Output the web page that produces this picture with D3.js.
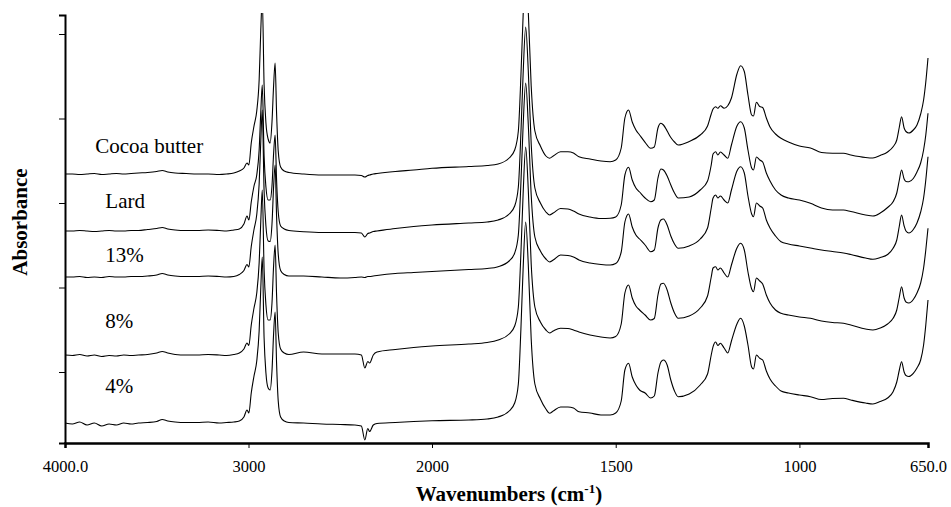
<!DOCTYPE html>
<html>
<head>
<meta charset="utf-8">
<script src="https://cdn.jsdelivr.net/npm/d3@7"></script>
<style>
  body { margin: 0; background: #fff; }
  svg { display: block; }
  svg text { font-family: "Liberation Serif", "Times New Roman", serif !important; fill: #000; }
</style>
</head>
<body>
<div id="chart"></div>
<script>
// FTIR spectra (absorbance, arbitrary offsets)
const wavenumbers = [
  4000, 3960, 3920, 3880, 3840, 3800, 3760, 3720, 3680, 3640, 3600, 3550, 3500, 3470, 3440, 3400, 3340, 3280, 3220, 3160, 3120, 3080,
  3050, 3025, 3008, 2998, 2985, 2970, 2955, 2942, 2933, 2925, 2915, 2905, 2893, 2882, 2872, 2863, 2855, 2847, 2838, 2825, 2805, 2780,
  2700, 2600, 2500, 2420, 2385, 2366, 2350, 2340, 2320, 2300, 2200, 2100, 2000, 1900, 1850, 1820, 1790, 1775, 1765, 1758, 1752, 1745, 1738, 1730, 1720, 1705, 1690, 1680,
  1670, 1650, 1630, 1615, 1600, 1570, 1540, 1515, 1500, 1485, 1475, 1465, 1455, 1445, 1435, 1420, 1405, 1395, 1385, 1377,
  1370, 1360, 1350, 1340, 1330, 1300, 1270, 1250, 1240, 1235, 1228, 1222, 1215, 1205, 1195, 1185, 1170, 1160, 1150, 1140,
  1130, 1125, 1117, 1108, 1100, 1090, 1080, 1065, 1050, 1030, 1000, 970, 940, 910, 880, 860, 820, 800, 780, 760,
  745, 735, 728, 722, 715, 710, 702, 690, 680, 670, 662, 656, 650
];

const cocoaButter = [
  2.69, 2.69, 2.685, 2.69, 2.695, 2.685, 2.69, 2.695, 2.69, 2.695, 2.70, 2.705, 2.715, 2.725, 2.71, 2.70, 2.695, 2.69, 2.69, 2.685, 2.69, 2.70,
  2.72, 2.75, 2.80, 2.78, 3.00, 3.17, 3.32, 3.63, 4.13, 4.45, 3.58, 3.20, 3.04, 3.00, 3.21, 3.58, 3.80, 3.30, 2.92, 2.76, 2.72, 2.705,
  2.69, 2.68, 2.68, 2.68, 2.675, 2.66, 2.675, 2.68, 2.69, 2.695, 2.715, 2.73, 2.747, 2.765, 2.775, 2.79, 2.85, 2.93, 3.12, 3.67, 4.27, 4.78, 4.32, 3.57, 3.12, 2.97, 2.87, 2.847,
  2.87, 2.913, 2.913, 2.90, 2.863, 2.84, 2.82, 2.813, 2.83, 2.95, 3.25, 3.33, 3.21, 3.13, 3.08, 3.007, 2.947, 2.96, 3.15, 3.197,
  3.18, 3.12, 3.055, 3.01, 2.98, 3.015, 3.08, 3.17, 3.29, 3.34, 3.363, 3.347, 3.373, 3.347, 3.373, 3.45, 3.69, 3.773, 3.715, 3.48,
  3.28, 3.27, 3.407, 3.365, 3.355, 3.25, 3.16, 3.09, 3.047, 3.01, 2.97, 2.95, 2.905, 2.897, 2.897, 2.88, 2.855, 2.85, 2.875, 2.91,
  2.963, 3.03, 3.16, 3.263, 3.15, 3.115, 3.10, 3.13, 3.18, 3.29, 3.43, 3.61, 3.85
];

const lard = [
  2.12, 2.12, 2.125, 2.12, 2.115, 2.12, 2.125, 2.12, 2.12, 2.125, 2.125, 2.135, 2.145, 2.155, 2.14, 2.13, 2.125, 2.125, 2.13, 2.125, 2.12, 2.13,
  2.14, 2.19, 2.27, 2.23, 2.41, 2.57, 2.68, 2.93, 3.31, 3.58, 2.87, 2.56, 2.43, 2.43, 2.57, 2.90, 3.08, 2.63, 2.31, 2.17, 2.14, 2.125,
  2.113, 2.105, 2.105, 2.105, 2.10, 2.06, 2.095, 2.10, 2.115, 2.12, 2.145, 2.165, 2.18, 2.20, 2.21, 2.23, 2.29, 2.37, 2.56, 3.10, 3.69, 4.16, 3.73, 2.99, 2.55, 2.40, 2.31, 2.28,
  2.30, 2.345, 2.34, 2.32, 2.29, 2.26, 2.245, 2.247, 2.26, 2.38, 2.68, 2.757, 2.63, 2.55, 2.51, 2.45, 2.413, 2.43, 2.65, 2.74,
  2.73, 2.67, 2.58, 2.50, 2.45, 2.46, 2.53, 2.62, 2.78, 2.89, 2.913, 2.88, 2.91, 2.88, 2.847, 2.98, 3.17, 3.213, 3.15, 2.93,
  2.75, 2.73, 2.86, 2.83, 2.81, 2.70, 2.62, 2.53, 2.48, 2.45, 2.43, 2.397, 2.35, 2.33, 2.33, 2.315, 2.28, 2.27, 2.30, 2.355,
  2.413, 2.50, 2.63, 2.73, 2.64, 2.615, 2.613, 2.645, 2.71, 2.80, 2.93, 3.08, 3.297
];

const pct13 = [
  1.66, 1.66, 1.665, 1.655, 1.66, 1.655, 1.665, 1.66, 1.66, 1.665, 1.665, 1.67, 1.68, 1.695, 1.68, 1.67, 1.665, 1.665, 1.67, 1.665, 1.66, 1.665,
  1.685, 1.725, 1.785, 1.76, 1.965, 2.135, 2.285, 2.59, 3.02, 3.33, 2.52, 2.17, 2.02, 2.015, 2.19, 2.57, 2.78, 2.27, 1.89, 1.725, 1.685, 1.67,
  1.67, 1.66, 1.65, 1.655, 1.66, 1.655, 1.665, 1.665, 1.67, 1.675, 1.695, 1.705, 1.715, 1.735, 1.745, 1.763, 1.82, 1.90, 2.08, 2.60, 3.17, 3.60, 3.19, 2.48, 2.06, 1.92, 1.84, 1.81,
  1.83, 1.88, 1.875, 1.86, 1.83, 1.80, 1.785, 1.78, 1.795, 1.91, 2.21, 2.29, 2.16, 2.08, 2.04, 1.98, 1.913, 1.93, 2.15, 2.23,
  2.24, 2.18, 2.07, 1.99, 1.947, 1.97, 2.04, 2.15, 2.35, 2.45, 2.48, 2.45, 2.47, 2.43, 2.40, 2.53, 2.72, 2.763, 2.70, 2.47,
  2.29, 2.263, 2.40, 2.37, 2.35, 2.23, 2.15, 2.07, 2.013, 1.99, 1.97, 1.95, 1.93, 1.915, 1.90, 1.885, 1.85, 1.837, 1.855, 1.885,
  1.947, 2.03, 2.17, 2.28, 2.17, 2.12, 2.10, 2.135, 2.20, 2.31, 2.45, 2.63, 2.863
];

const pct8 = [
  0.88, 0.875, 0.885, 0.87, 0.88, 0.865, 0.875, 0.87, 0.88, 0.875, 0.88, 0.885, 0.90, 0.915, 0.90, 0.885, 0.88, 0.88, 0.885, 0.88, 0.875, 0.885,
  0.90, 0.94, 1.00, 0.975, 1.18, 1.35, 1.50, 1.80, 2.22, 2.53, 1.73, 1.38, 1.23, 1.23, 1.40, 1.78, 1.98, 1.48, 1.10, 0.94, 0.90, 0.885,
  0.91, 0.89, 0.89, 0.89, 0.88, 0.75, 0.815, 0.80, 0.88, 0.91, 0.935, 0.955, 0.97, 0.99, 1.005, 1.03, 1.09, 1.17, 1.36, 1.90, 2.49, 2.96, 2.54, 1.79, 1.36, 1.21, 1.13, 1.10,
  1.12, 1.147, 1.145, 1.13, 1.11, 1.08, 1.06, 1.05, 1.065, 1.19, 1.50, 1.58, 1.45, 1.37, 1.33, 1.28, 1.23, 1.245, 1.48, 1.59,
  1.597, 1.53, 1.40, 1.30, 1.247, 1.27, 1.35, 1.47, 1.66, 1.75, 1.763, 1.73, 1.75, 1.70, 1.66, 1.78, 1.95, 1.997, 1.93, 1.71,
  1.54, 1.513, 1.65, 1.62, 1.59, 1.48, 1.40, 1.33, 1.297, 1.28, 1.26, 1.247, 1.22, 1.205, 1.197, 1.18, 1.14, 1.13, 1.15, 1.19,
  1.247, 1.33, 1.46, 1.563, 1.45, 1.41, 1.40, 1.435, 1.50, 1.60, 1.75, 1.93, 2.147
];

const pct4 = [
  0.20, 0.19, 0.21, 0.18, 0.20, 0.17, 0.19, 0.18, 0.20, 0.19, 0.20, 0.205, 0.215, 0.235, 0.22, 0.21, 0.205, 0.205, 0.21, 0.20, 0.205, 0.21,
  0.22, 0.26, 0.33, 0.30, 0.50, 0.67, 0.82, 1.12, 1.55, 1.86, 1.05, 0.70, 0.55, 0.53, 0.72, 1.10, 1.31, 0.80, 0.42, 0.26, 0.22, 0.205,
  0.20, 0.19, 0.185, 0.18, 0.17, 0.03, 0.145, 0.115, 0.18, 0.195, 0.205, 0.215, 0.223, 0.23, 0.24, 0.26, 0.32, 0.40, 0.59, 1.14, 1.74, 2.21, 1.79, 1.04, 0.59, 0.44, 0.34, 0.297,
  0.32, 0.36, 0.36, 0.35, 0.313, 0.30, 0.28, 0.28, 0.30, 0.42, 0.73, 0.797, 0.66, 0.58, 0.53, 0.50, 0.45, 0.47, 0.70, 0.81,
  0.83, 0.78, 0.63, 0.52, 0.463, 0.49, 0.58, 0.69, 0.88, 0.963, 1.01, 0.975, 0.997, 0.95, 0.90, 1.02, 1.19, 1.247, 1.17, 0.98,
  0.76, 0.74, 0.88, 0.847, 0.83, 0.72, 0.64, 0.57, 0.52, 0.50, 0.48, 0.463, 0.435, 0.445, 0.447, 0.43, 0.40, 0.39, 0.415, 0.45,
  0.513, 0.61, 0.73, 0.813, 0.71, 0.675, 0.665, 0.697, 0.75, 0.83, 0.98, 1.18, 1.43
];

const seriesNames = ["Cocoa butter", "Lard", "13%", "8%", "4%"];
const seriesValues = [cocoaButter, lard, pct13, pct8, pct4];
// where each name sits: [wavenumber, absorbance]
const labelAnchors = [[3835, 2.90], [3780, 2.35], [3780, 1.81], [3780, 1.15], [3780, 0.50]];

const xTickValues = [4000, 3000, 2000, 1500, 1000, 650];
const xTickLabels = ["4000.0", "3000", "2000", "1500", "1000", "650.0"];
const yTickValues = [0.71, 1.555, 2.40, 3.245, 4.09];

const serif = '"Liberation Serif", "Times New Roman", serif';
const width = 951, height = 507;
const plot = { left: 65, right: 928, top: 15, bottom: 443 };

const svg = d3.select('#chart').append('svg')
  .attr('width', width)
  .attr('height', height)
  .attr('font-family', serif);

// x axis is split at 2000 cm-1 (high range compressed 2x)
const x = d3.scaleLinear()
  .domain([4000, 2000, 650])
  .range([plot.left, 432, plot.right]);

const y = d3.scaleLinear()
  .domain([0, 4.28])
  .range([plot.bottom, plot.top]);

svg.append('clipPath').attr('id', 'clip')
  .append('rect')
  .attr('x', plot.left)
  .attr('y', 13)
  .attr('width', plot.right - plot.left + 2)
  .attr('height', plot.bottom - 13);

const line = d3.line()
  .x(d => x(d[0]))
  .y(d => y(d[1]))
  .curve(d3.curveMonotoneX);

svg.append('g')
  .attr('clip-path', 'url(#clip)')
  .selectAll('path')
  .data(seriesValues)
  .enter()
  .append('path')
  .attr('d', vals => line(wavenumbers.map((w, i) => [w, vals[i]])))
  .attr('fill', 'none')
  .attr('stroke', '#000')
  .attr('stroke-width', 1.1)
  .attr('stroke-linejoin', 'round');

// series names
svg.append('g')
  .selectAll('text')
  .data(seriesNames)
  .enter()
  .append('text')
  .attr('x', (d, i) => x(labelAnchors[i][0]))
  .attr('y', (d, i) => y(labelAnchors[i][1]))
  .style('font-family', serif)
  .attr('font-size', 21)
  .text(d => d);

// y axis, no labels
const yAxis = svg.append('g')
  .attr('transform', `translate(${plot.left},0)`)
  .call(d3.axisLeft(y).tickValues(yTickValues).tickSize(6).tickSizeOuter(6).tickFormat(''));
yAxis.select('.domain').attr('stroke-width', 2);
yAxis.selectAll('.tick line').attr('stroke-width', 1);

// x axis
const xAxis = svg.append('g')
  .attr('transform', `translate(0,${plot.bottom})`)
  .call(d3.axisBottom(x)
    .tickValues(xTickValues)
    .tickSize(5)
    .tickSizeOuter(5)
    .tickPadding(12)
    .tickFormat((d, i) => xTickLabels[i]));
xAxis.attr('font-family', serif);
xAxis.select('.domain').attr('stroke-width', 2.5);
xAxis.selectAll('.tick line').attr('stroke-width', 1);
xAxis.selectAll('.tick text')
  .attr('font-size', 16.5)
  .style('font-family', serif);

// axis titles
const xTitle = svg.append('text')
  .attr('x', 509)
  .attr('y', 501)
  .attr('text-anchor', 'middle')
  .style('font-family', serif)
  .attr('font-size', 21)
  .attr('font-weight', 'bold');
xTitle.append('tspan').text('Wavenumbers (cm');
xTitle.append('tspan').attr('font-size', 13).attr('dy', -8).text('-1');
xTitle.append('tspan').attr('dy', 8).text(')');

svg.append('text')
  .attr('transform', 'translate(27,222) rotate(-90)')
  .attr('text-anchor', 'middle')
  .style('font-family', serif)
  .attr('font-size', 21)
  .attr('font-weight', 'bold')
  .text('Absorbance');
</script>
</body>
</html>
